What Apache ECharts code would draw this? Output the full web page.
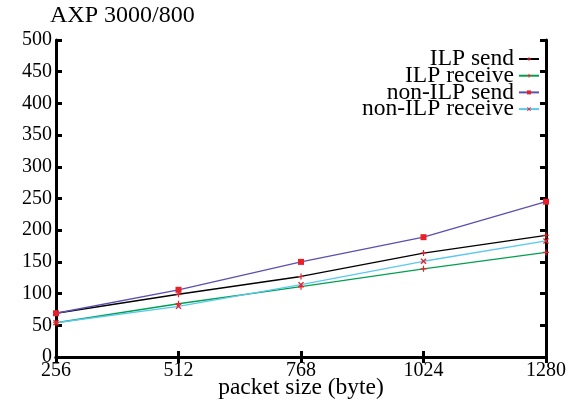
<!DOCTYPE html>
<html>
<head>
<meta charset="utf-8">
<script src="https://cdn.jsdelivr.net/npm/echarts@6/dist/echarts.min.js"></script>
<style>
html, body { margin: 0; padding: 0; background: #fff; }
#main { width: 585px; height: 405px; }
</style>
</head>
<body>
<div id="main"></div>
<script>
var packetSizes = [256, 512, 768, 1024, 1280];
var ilpSend = [69, 99, 127, 164, 192];
var ilpReceive = [54, 84, 111, 139, 165];
var nonIlpSend = [69, 106, 150, 189, 245];
var nonIlpReceive = [54, 80, 114, 151, 183];

var plusPath = 'path://M4,0H6V4H10V6H6V10H4V6H0V4H4Z';
var crossPath = 'path://M0,1.5L1.5,0L5,3.5L8.5,0L10,1.5L6.5,5L10,8.5L8.5,10L5,6.5L1.5,10L0,8.5L3.5,5Z';
var font = 'Liberation Serif';

var myChart = echarts.init(document.getElementById('main'));

function pairs(vals) {
    return packetSizes.map(function (x, i) { return [x, vals[i]]; });
}

function makeSeries(name, vals, color, symbol, size) {
    return {
        name: name,
        type: 'line',
        data: pairs(vals),
        symbol: symbol,
        symbolSize: size,
        showAllSymbol: true,
        lineStyle: { color: color, width: 1.3 },
        itemStyle: { color: '#e8202a' },
        emphasis: { disabled: true },
        animation: false
    };
}

var tickStyle = { show: true, inside: true, length: 6, lineStyle: { color: '#000', width: 3 } };
var lineStyle = { show: true, lineStyle: { color: '#000', width: 3 } };

option = {
    backgroundColor: '#fff',
    title: {
        text: 'AXP 3000/800',
        left: 45, top: -1,
        textStyle: { fontFamily: font, fontSize: 24, fontWeight: 'normal', color: '#000' }
    },
    legend: {
        orient: 'vertical',
        right: 40, top: 42,
        align: 'right',
        itemGap: -7.3,
        itemWidth: 20,
        itemHeight: 5,
        textStyle: { fontFamily: font, fontSize: 23.5, color: '#000' },
        data: ['ILP send', 'ILP receive', 'non-ILP send', 'non-ILP receive']
    },
    grid: { left: 56, right: 39, top: 40, bottom: 48, containLabel: false, outerBoundsMode: 'none' },
    xAxis: [{
        type: 'value', min: 256, max: 1280, interval: 256,
        name: 'packet size (byte)', nameLocation: 'middle', nameGap: 19, nameMoveOverlap: false,
        nameTextStyle: { fontFamily: font, fontSize: 23.5, color: '#000' },
        axisLine: lineStyle, axisTick: tickStyle,
        axisLabel: { fontFamily: font, fontSize: 20, color: '#000', margin: 4, formatter: function (v) { return String(v); } },
        splitLine: { show: false }
    }, {
        type: 'value', min: 256, max: 1280, interval: 256, position: 'top',
        axisLine: lineStyle, axisTick: tickStyle,
        axisLabel: { show: false }, splitLine: { show: false }
    }],
    yAxis: [{
        type: 'value', min: 0, max: 500, interval: 50,
        axisLine: lineStyle, axisTick: tickStyle,
        axisLabel: { fontFamily: font, fontSize: 20, color: '#000', margin: 4 },
        splitLine: { show: false }
    }, {
        type: 'value', min: 0, max: 500, interval: 50, position: 'right',
        axisLine: lineStyle, axisTick: tickStyle,
        axisLabel: { show: false }, splitLine: { show: false }
    }],
    series: [
        makeSeries('ILP send', ilpSend, '#000000', plusPath, 6),
        makeSeries('ILP receive', ilpReceive, '#00a050', plusPath, 6),
        makeSeries('non-ILP send', nonIlpSend, '#5a50b0', 'rect', 6),
        makeSeries('non-ILP receive', nonIlpReceive, '#5ac8f0', crossPath, 6)
    ]
};

myChart.setOption(option);
</script>
</body>
</html>
